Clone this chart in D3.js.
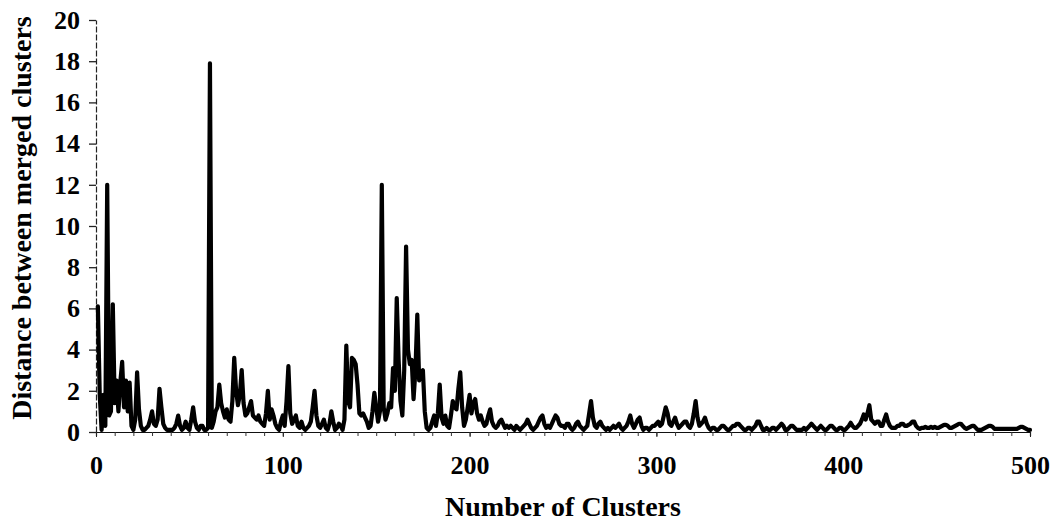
<!DOCTYPE html>
<html>
<head>
<meta charset="utf-8">
<script src="https://cdn.jsdelivr.net/npm/d3@7"></script>
<style>
  html, body { margin: 0; padding: 0; background: #fff; }
  svg { display: block; }
  text { font-family: "Liberation Serif", "Times New Roman", "DejaVu Serif", serif; font-weight: bold; fill: #000; }
</style>
</head>
<body>
<svg id="chart" width="1057" height="522"></svg>
<script>
// Merge distance recorded at each step, indexed by number of clusters (1..500)
const mergeDistances = [
  6.1, 1.8, 0.1, 1.8, 0.3, 12.0, 0.8, 1.0, 6.2, 1.4,
  2.5, 1.0, 2.4, 3.4, 1.2, 2.5, 1.0, 2.4, 0.3, 0.1,
  0.6, 2.9, 1.1, 0.3, 0.1, 0.1, 0.2, 0.3, 0.6, 1.0,
  0.4, 0.3, 0.6, 2.1, 1.2, 0.4, 0.2, 0.1, 0.1, 0.1,
  0.1, 0.2, 0.4, 0.8, 0.3, 0.1, 0.2, 0.5, 0.2, 0.1,
  0.6, 1.2, 0.5, 0.2, 0.1, 0.3, 0.3, 0.1, 0.1, 0.2,
  17.9, 0.2, 0.5, 1.0, 1.2, 2.3, 1.4, 1.0, 0.7, 1.1,
  0.6, 0.5, 1.5, 3.6, 2.0, 1.3, 1.8, 3.0, 1.4, 0.8,
  0.9, 1.2, 1.5, 0.8, 0.7, 0.6, 0.8, 0.5, 0.4, 0.3,
  0.9, 2.0, 0.6, 1.1, 0.8, 0.4, 0.2, 0.1, 0.5, 0.8,
  0.3, 1.5, 3.2, 0.9, 0.4, 0.6, 0.8, 0.3, 0.2, 0.5,
  0.2, 0.1, 0.2, 0.3, 0.5, 1.2, 2.0, 0.8, 0.3, 0.2,
  0.4, 0.6, 0.2, 0.1, 0.4, 1.0, 0.5, 0.1, 0.2, 0.4,
  0.3, 0.1, 0.6, 4.2, 1.5, 1.2, 3.6, 3.5, 3.3, 2.3,
  0.9, 0.8, 0.9, 0.7, 0.5, 0.2, 0.3, 1.0, 1.9, 1.2,
  0.5, 1.0, 12.0, 1.2, 0.6, 0.9, 1.4, 1.2, 3.1, 2.0,
  6.5, 3.5, 1.5, 0.8, 3.0, 9.0, 4.0, 3.3, 3.5, 1.6,
  3.0, 5.7, 2.5, 2.9, 3.0, 1.0, 0.2, 0.1, 0.2, 0.5,
  0.8, 0.3, 0.9, 2.3, 0.7, 0.4, 0.8, 0.3, 0.2, 0.8,
  1.5, 1.2, 1.1, 2.1, 2.9, 1.2, 0.3, 0.6, 1.2, 1.8,
  0.9, 1.4, 1.6, 0.9, 0.6, 0.8, 0.5, 0.3, 0.4, 0.8,
  1.1, 0.5, 0.3, 0.2, 0.3, 0.5, 0.6, 0.4, 0.2, 0.3,
  0.2, 0.3, 0.2, 0.1, 0.3, 0.2, 0.1, 0.2, 0.3, 0.4,
  0.6, 0.4, 0.2, 0.1, 0.2, 0.3, 0.5, 0.7, 0.8, 0.4,
  0.2, 0.3, 0.2, 0.4, 0.6, 0.8, 0.7, 0.4, 0.3, 0.3,
  0.2, 0.4, 0.4, 0.2, 0.1, 0.2, 0.4, 0.5, 0.3, 0.2,
  0.1, 0.2, 0.3, 0.9, 1.5, 0.7, 0.3, 0.2, 0.4, 0.5,
  0.3, 0.2, 0.1, 0.2, 0.1, 0.2, 0.3, 0.2, 0.3, 0.4,
  0.2, 0.1, 0.2, 0.3, 0.5, 0.8, 0.4, 0.2, 0.4, 0.6,
  0.7, 0.3, 0.1, 0.2, 0.2, 0.1, 0.2, 0.3, 0.3, 0.4,
  0.5, 0.3, 0.4, 0.8, 1.2, 0.9, 0.4, 0.3, 0.5, 0.7,
  0.4, 0.2, 0.3, 0.4, 0.5, 0.5, 0.3, 0.2, 0.4, 0.9,
  1.5, 0.7, 0.3, 0.4, 0.5, 0.7, 0.4, 0.2, 0.1, 0.2,
  0.2, 0.1, 0.1, 0.2, 0.3, 0.3, 0.2, 0.1, 0.1, 0.2,
  0.3, 0.3, 0.4, 0.4, 0.3, 0.2, 0.1, 0.1, 0.2, 0.2,
  0.1, 0.2, 0.3, 0.5, 0.5, 0.3, 0.1, 0.1, 0.2, 0.1,
  0.1, 0.2, 0.2, 0.1, 0.2, 0.3, 0.4, 0.3, 0.1, 0.1,
  0.2, 0.3, 0.3, 0.2, 0.1, 0.1, 0.1, 0.1, 0.2, 0.1,
  0.2, 0.3, 0.4, 0.3, 0.2, 0.1, 0.2, 0.3, 0.2, 0.1,
  0.1, 0.2, 0.3, 0.3, 0.2, 0.1, 0.1, 0.2, 0.2, 0.1,
  0.1, 0.2, 0.3, 0.45, 0.3, 0.2, 0.2, 0.3, 0.4, 0.6,
  0.85, 0.6, 0.9, 1.3, 0.6, 0.5, 0.4, 0.5, 0.5, 0.3,
  0.3, 0.6, 0.85, 0.5, 0.3, 0.2, 0.2, 0.2, 0.3, 0.3,
  0.4, 0.4, 0.3, 0.3, 0.35, 0.4, 0.5, 0.5, 0.3, 0.2,
  0.15, 0.2, 0.2, 0.25, 0.2, 0.2, 0.25, 0.2, 0.25, 0.2,
  0.2, 0.25, 0.3, 0.35, 0.35, 0.3, 0.2, 0.2, 0.25, 0.3,
  0.35, 0.4, 0.4, 0.3, 0.2, 0.15, 0.2, 0.25, 0.3, 0.3,
  0.2, 0.1, 0.1, 0.1, 0.15, 0.2, 0.25, 0.3, 0.3, 0.25,
  0.15, 0.15, 0.15, 0.15, 0.15, 0.15, 0.15, 0.15, 0.15, 0.15,
  0.15, 0.15, 0.15, 0.2, 0.25, 0.25, 0.2, 0.15, 0.1, 0.1
];

// Tick labels
const xTickValues = [0, 100, 200, 300, 400, 500];
const yTickValues = [0, 2, 4, 6, 8, 10, 12, 14, 16, 18, 20];

const xLabel = "Number of Clusters";
const yLabel = "Distance between merged clusters";

const svg = d3.select("#chart");
const margin = { top: 20, right: 27, bottom: 90, left: 96 };
const width = 1057 - margin.left - margin.right;
const height = 522 - margin.top - margin.bottom;

const g = svg.append("g").attr("transform", `translate(${margin.left},${margin.top})`);

const x = d3.scaleLinear().domain([0, 500]).range([0, width]);
const y = d3.scaleLinear().domain([0, 20]).range([height, 0]);

const series = mergeDistances.map((v, i) => ({ n: i + 1, v }));

const labelFont = "'Liberation Serif', 'Times New Roman', serif";

// Minor ticks along the x axis every 10 clusters
const minorAxis = g.append("g")
  .attr("transform", `translate(0,${height})`)
  .call(d3.axisBottom(x).tickValues(d3.range(0, 501, 10)).tickSize(4).tickFormat(""));
minorAxis.select(".domain").attr("stroke", "#111").attr("stroke-width", 1.2);
minorAxis.selectAll(".tick line").attr("stroke", "#333").attr("stroke-width", 1);

// Labelled x axis
const xAxis = g.append("g")
  .attr("transform", `translate(0,${height})`)
  .call(d3.axisBottom(x).tickValues(xTickValues).tickSize(5).tickSizeOuter(0).tickPadding(19));
xAxis.select(".domain").remove();
xAxis.selectAll(".tick line").attr("stroke", "#222");
xAxis.selectAll(".tick text")
  .style("font-size", "26px")
  .style("font-family", labelFont)
  .style("font-weight", "bold")
  .attr("fill", "#000");

// Y axis with a thin dashed spine
const yAxis = g.append("g")
  .call(d3.axisLeft(y).tickValues(yTickValues).tickSize(7).tickSizeOuter(0).tickPadding(9));
yAxis.select(".domain").attr("stroke", "#222").attr("stroke-width", 1.2).attr("stroke-dasharray", "6,2");
yAxis.selectAll(".tick line").attr("stroke", "#222").attr("stroke-width", 1.3);
yAxis.selectAll(".tick text")
  .style("font-size", "26px")
  .style("font-family", labelFont)
  .style("font-weight", "bold")
  .attr("fill", "#000");

// Distance curve
const line = d3.line()
  .x(d => x(d.n))
  .y(d => y(d.v));

g.append("path")
  .datum(series)
  .attr("fill", "none")
  .attr("stroke", "#000")
  .attr("stroke-width", 4.2)
  .attr("stroke-linejoin", "round")
  .attr("stroke-linecap", "round")
  .attr("d", line);

// Axis titles
svg.append("text")
  .attr("x", margin.left + width / 2)
  .attr("y", 516)
  .attr("text-anchor", "middle")
  .style("font-size", "28px")
  .text(xLabel);

svg.append("text")
  .attr("transform", `translate(31,${margin.top + height / 2 - 8}) rotate(-90)`)
  .attr("text-anchor", "middle")
  .style("font-size", "28px")
  .text(yLabel);
</script>
</body>
</html>
